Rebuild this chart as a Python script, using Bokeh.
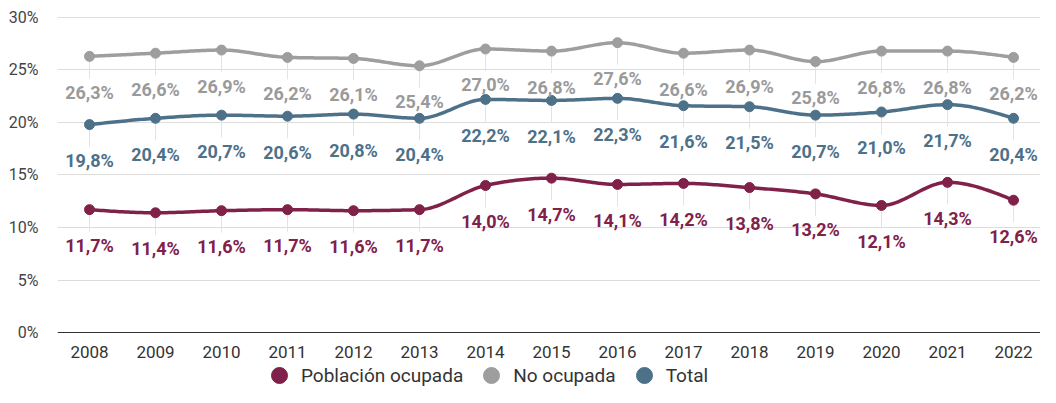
import numpy as np
from bokeh.plotting import figure
from bokeh.models import (ColumnDataSource, FixedTicker, Legend, LegendItem, Span, Range1d)
from bokeh.core.properties import value
from bokeh.embed import file_html
from bokeh.resources import INLINE

years = [2008, 2009, 2010, 2011, 2012, 2013, 2014, 2015, 2016, 2017, 2018, 2019, 2020, 2021, 2022]
year_labels = [str(y) for y in years]
no_ocupada = [26.3, 26.6, 26.9, 26.2, 26.1, 25.4, 27.0, 26.8, 27.6, 26.6, 26.9, 25.8, 26.8, 26.8, 26.2]
total = [19.8, 20.4, 20.7, 20.6, 20.8, 20.4, 22.2, 22.1, 22.3, 21.6, 21.5, 20.7, 21.0, 21.7, 20.4]
ocupada = [11.7, 11.4, 11.6, 11.7, 11.6, 11.7, 14.0, 14.7, 14.1, 14.2, 13.8, 13.2, 12.1, 14.3, 12.6]
y_ticks = [0, 5, 10, 15, 20, 25, 30]
y_tick_labels = ["0%", "5%", "10%", "15%", "20%", "25%", "30%"]
series_names = ["Población ocupada", "No ocupada", "Total"]

RED = "#80214a"
GRAY = "#9e9e9e"
BLUE = "#4d7188"
FONT = "Roboto"


def monotone_curve(xs, ys, n=24):
    xs = np.asarray(xs, float)
    ys = np.asarray(ys, float)
    h = np.diff(xs)
    s = np.diff(ys) / h
    m = len(xs)
    t = np.zeros(m)
    sg = lambda v: -1.0 if v < 0 else 1.0
    for i in range(1, m - 1):
        p = (s[i - 1] * h[i] + s[i] * h[i - 1]) / (h[i - 1] + h[i])
        t[i] = (sg(s[i - 1]) + sg(s[i])) * min(abs(s[i - 1]), abs(s[i]), 0.5 * abs(p))
    t[0] = (3 * s[0] - t[1]) / 2
    t[-1] = (3 * s[-1] - t[-2]) / 2
    ox, oy = [], []
    for i in range(m - 1):
        u = np.linspace(0, 1, n, endpoint=(i == m - 2))
        h00 = 2 * u**3 - 3 * u**2 + 1
        h10 = u**3 - 2 * u**2 + u
        h01 = -2 * u**3 + 3 * u**2
        h11 = u**3 - u**2
        ox.extend(xs[i] + u * h[i])
        oy.extend(h00 * ys[i] + h10 * h[i] * t[i] + h01 * ys[i + 1] + h11 * h[i] * t[i + 1])
    return ox, oy


def fmt(v):
    return f"{v:.1f}%".replace(".", ",")


p = figure(width=1040, height=387, output_backend="svg", toolbar_location=None,
           x_axis_location=None,
           x_range=Range1d(2007.515, 2022.409), y_range=Range1d(-5.238, 30.476),
           min_border_left=57, min_border_right=0, min_border_top=12, min_border_bottom=0)
p.outline_line_color = None
p.background_fill_color = "white"
p.border_fill_color = "white"

p.xgrid.grid_line_color = None
p.ygrid.grid_line_color = "#dcdcdc"
p.ygrid.grid_line_width = 1
p.ygrid.ticker = FixedTicker(ticks=y_ticks[1:])

p.add_layout(Span(location=0, dimension="width", line_color="#333333", line_width=1))

p.yaxis.ticker = FixedTicker(ticks=y_ticks)
p.yaxis.major_label_overrides = {t: l for t, l in zip(y_ticks, y_tick_labels)}
p.yaxis.axis_line_color = None
p.yaxis.major_tick_line_color = None
p.yaxis.minor_tick_line_color = None
p.yaxis.major_label_standoff = 13
p.yaxis.major_label_text_font = FONT
p.yaxis.major_label_text_font_size = "16px"
p.yaxis.major_label_text_color = "#444444"

# year labels (category axis text)
p.text(x=years, y=[0] * len(years), text=year_labels, y_offset=19, text_align="center",
       text_baseline="middle", text_font=value(FONT), text_font_size="17px", text_color="#333333")

series = [(ocupada, RED, RED), (no_ocupada, GRAY, "#9a9a9a"), (total, BLUE, BLUE)]

# connectors first (beneath)
for vals, col, lcol in series:
    p.ray(x=years, y=vals, length=22, length_units="screen", angle=-np.pi / 2,
          line_color="#e3e3e3", line_width=1)

dots = []
for vals, col, lcol in series:
    cx, cy = monotone_curve(years, vals)
    p.line(cx, cy, line_color=col, line_width=3.5, line_join="round", line_cap="round")
    r = p.scatter(years, vals, size=10, fill_color=col, line_color=col)
    dots.append(r)

for vals, col, lcol in series:
    src = ColumnDataSource(dict(x=years, y=vals, t=[fmt(v) for v in vals]))
    p.text(x="x", y="y", text="t", source=src, y_offset=36, text_align="center",
           text_baseline="middle", text_font=value(FONT), text_font_style="bold",
           text_font_size="18px", text_color=lcol)

legend = Legend(items=[LegendItem(label=n, renderers=[r]) for n, r in zip(series_names, dots)],
                orientation="horizontal", location=(202, -8),
                glyph_width=40, glyph_height=40, label_standoff=2, spacing=8,
                padding=0, margin=0, border_line_color=None, background_fill_alpha=0,
                label_text_font=FONT, label_text_font_size="19px", label_text_color="#333333")
p.add_layout(legend)

open("out.html", "w").write(file_html(p, INLINE))
